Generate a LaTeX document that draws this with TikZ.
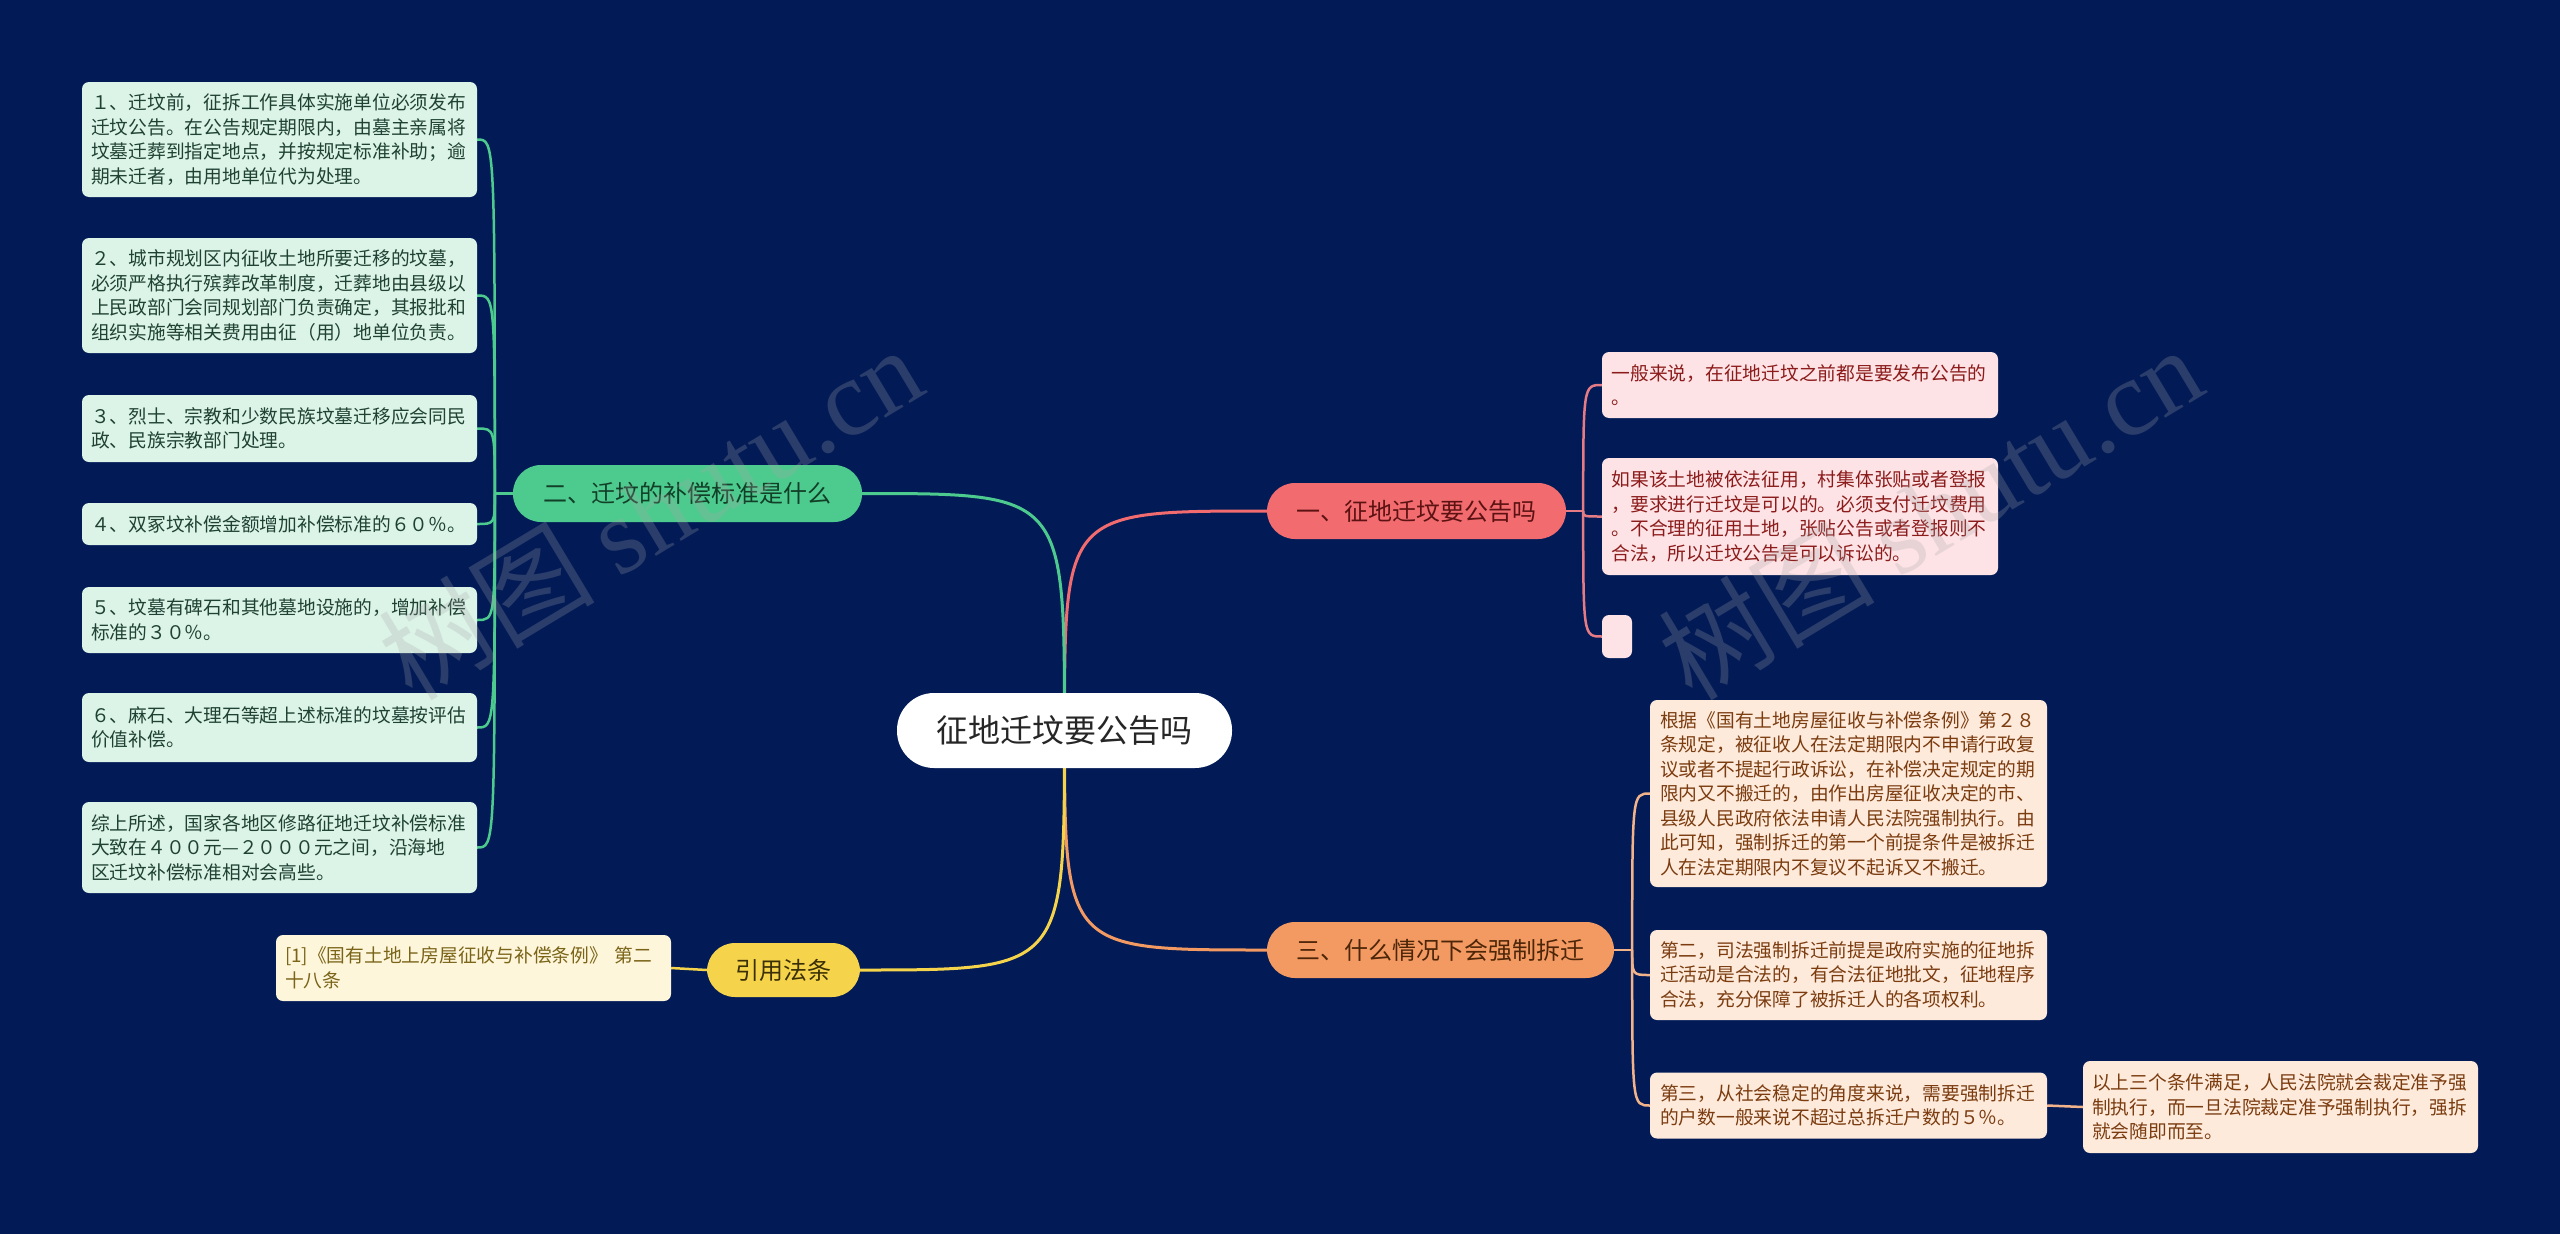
\documentclass[tikz,border=0pt]{standalone}
\usepackage{fontspec}
\setmainfont{Noto Sans CJK SC}
\newfontfamily\wmserif{Liberation Serif}
\definecolor{navy}{HTML}{021B57}
\definecolor{cred}{HTML}{F16B6F}
\definecolor{cgreen}{HTML}{4DCB8E}
\definecolor{corange}{HTML}{F39A62}
\definecolor{cyellow}{HTML}{F5D44C}
\definecolor{lred}{HTML}{E57B84}
\definecolor{lorange}{HTML}{F2B38A}
\definecolor{gleaf}{HTML}{DCF3E8}
\definecolor{gtext}{HTML}{1F4233}
\definecolor{pleaf}{HTML}{FDE3E5}
\definecolor{ptext}{HTML}{8C1B1B}
\definecolor{oleaf}{HTML}{FDEADB}
\definecolor{otext}{HTML}{7B3C10}
\definecolor{yleaf}{HTML}{FEF6DB}
\definecolor{ytext}{HTML}{7A6418}
\pgfdeclarelayer{bg}
\pgfdeclarelayer{edges}
\pgfsetlayers{bg,edges,main}
\begin{document}
\begin{tikzpicture}[x=1pt,y=-1pt,
  leaf/.style={rounded corners=7pt, inner xsep=9pt, inner ysep=0pt, text width=377pt,
    align=left, font=\fontsize{18.75pt}{24.5pt}\selectfont, minimum width=395pt},
  gleafbox/.style={leaf, fill=gleaf, text=gtext},
  pleafbox/.style={leaf, fill=pleaf, text=ptext},
  oleafbox/.style={leaf, fill=oleaf, text=otext},
  yleafbox/.style={leaf, fill=yleaf, text=ytext},
  branchbox/.style={rounded corners=28pt, inner sep=0pt, minimum height=56pt,
    font=\fontsize{24pt}{28pt}\selectfont},
  mainline/.style={line width=3pt},
  subline/.style={line width=2.5pt},
  wm/.style={text=gray!70, opacity=0.25, rotate=31, font=\fontsize{108pt}{120pt}\selectfont}
]
\begin{pgfonlayer}{bg}
  \fill[navy] (0,0) rectangle (2560,1234);
\end{pgfonlayer}
\useasboundingbox (0,0) rectangle (2560,1234);

% center
\node[fill=white, rounded corners=37pt, minimum width=335pt, minimum height=75pt,
  inner sep=0pt, text=black!85, font=\fontsize{32pt}{36pt}\selectfont] (c) at (1064.5,730.5) {征地迁坟要公告吗};

% branches
\node[branchbox, fill=cred, text={rgb,255:red,92;green,18;blue,18}, minimum width=299pt] (b1) at (1416.5,511) {一、征地迁坟要公告吗};
\node[branchbox, fill=cgreen, text={rgb,255:red,18;green,63;blue,40}, minimum width=349pt, minimum height=57pt] (b2) at (687.5,493.5) {二、迁坟的补偿标准是什么};
\node[branchbox, fill=corange, text={rgb,255:red,77;green,38;blue,9}, minimum width=347pt] (b3) at (1440.5,950) {三、什么情况下会强制拆迁};
\node[branchbox, fill=cyellow, text={rgb,255:red,59;green,48;blue,5}, minimum width=153pt, minimum height=54pt] (b4) at (783.5,970) {引用法条};

% left leaves
\node[gleafbox, minimum height=115pt] (l1) at (279.5,139.5) {１、迁坟前，征拆工作具体实施单位必须发布\\迁坟公告。在公告规定期限内，由墓主亲属将\\坟墓迁葬到指定地点，并按规定标准补助；逾\\期未迁者，由用地单位代为处理。};
\node[gleafbox, minimum height=115pt] (l2) at (279.5,295.5) {２、城市规划区内征收土地所要迁移的坟墓，\\必须严格执行殡葬改革制度，迁葬地由县级以\\上民政部门会同规划部门负责确定，其报批和\\组织实施等相关费用由征（用）地单位负责。};
\node[gleafbox, minimum height=67pt] (l3) at (279.5,428.5) {３、烈士、宗教和少数民族坟墓迁移应会同民\\政、民族宗教部门处理。};
\node[gleafbox, minimum height=42pt] (l4) at (279.5,524) {４、双冢坟补偿金额增加补偿标准的６０％。};
\node[gleafbox, minimum height=66pt] (l5) at (279.5,620) {５、坟墓有碑石和其他墓地设施的，增加补偿\\标准的３０％。};
\node[gleafbox, minimum height=69pt] (l6) at (279.5,727.5) {６、麻石、大理石等超上述标准的坟墓按评估\\价值补偿。};
\node[gleafbox, minimum height=91pt] (l7) at (279.5,847.5) {综上所述，国家各地区修路征地迁坟补偿标准\\大致在４００元—２０００元之间，沿海地\\区迁坟补偿标准相对会高些。};

% reference leaf
\node[yleafbox, minimum height=66pt] (r1) at (473.5,968) {[1]《国有土地上房屋征收与补偿条例》 第二\\十八条};

% right leaves (branch 1)
\node[pleafbox, minimum height=66pt, minimum width=396pt] (a1) at (1800,385) {一般来说，在征地迁坟之前都是要发布公告的\\。};
\node[pleafbox, minimum height=117pt, minimum width=396pt] (a2) at (1800,516.5) {如果该土地被依法征用，村集体张贴或者登报\\，要求进行迁坟是可以的。必须支付迁坟费用\\。不合理的征用土地，张贴公告或者登报则不\\合法，所以迁坟公告是可以诉讼的。};
\node[fill=pleaf, rounded corners=7pt, inner sep=0pt, minimum width=30pt, minimum height=43pt] (a3) at (1617,636.5) {};

% right leaves (branch 3)
\node[oleafbox, minimum height=187pt, minimum width=397pt] (d1) at (1848.5,793.5) {根据《国有土地房屋征收与补偿条例》第２８\\条规定，被征收人在法定期限内不申请行政复\\议或者不提起行政诉讼，在补偿决定规定的期\\限内又不搬迁的，由作出房屋征收决定的市、\\县级人民政府依法申请人民法院强制执行。由\\此可知，强制拆迁的第一个前提条件是被拆迁\\人在法定期限内不复议不起诉又不搬迁。};
\node[oleafbox, minimum height=90pt, minimum width=397pt] (d2) at (1848.5,975) {第二，司法强制拆迁前提是政府实施的征地拆\\迁活动是合法的，有合法征地批文，征地程序\\合法，充分保障了被拆迁人的各项权利。};
\node[oleafbox, minimum height=66pt, minimum width=397pt] (d3) at (1848.5,1105.5) {第三，从社会稳定的角度来说，需要强制拆迁\\的户数一般来说不超过总拆迁户数的５％。};
\node[oleafbox, minimum height=92pt] (d4) at (2280.5,1107) {以上三个条件满足，人民法院就会裁定准予强\\制执行，而一旦法院裁定准予强制执行，强拆\\就会随即而至。};

% connectors
\begin{pgfonlayer}{edges}
  \draw[mainline, cred] (c.center) .. controls (c.center |- b1.west) .. (b1.west);
  \draw[mainline, cgreen] (c.center) .. controls (c.center |- b2.east) .. (b2.east);
  \draw[mainline, corange] (c.center) .. controls (c.center |- b3.west) .. (b3.west);
  \draw[mainline, cyellow] (c.center) .. controls (c.center |- b4.east) .. (b4.east);

  \path (b2.west) ++(-18,0) coordinate (j2);
  \draw[subline, cgreen] (b2.west) -- (j2);
  \foreach \n in {l1,l2,l3,l4,l5,l6,l7}
    \draw[subline, cgreen] (j2) .. controls (j2 |- \n.east) .. (\n.east);

  \draw[subline, cyellow] (b4.west) -- (r1.east);

  \path (b1.east) ++(17,0) coordinate (j1);
  \draw[subline, lred] (b1.east) -- (j1);
  \foreach \n in {a1,a2,a3}
    \draw[subline, lred] (j1) .. controls (j1 |- \n.west) .. (\n.west);

  \path (b3.east) ++(18,0) coordinate (j3);
  \draw[subline, lorange] (b3.east) -- (j3);
  \foreach \n in {d1,d2,d3}
    \draw[subline, lorange] (j3) .. controls (j3 |- \n.west) .. (\n.west);
  \draw[subline, lorange] (d3.east) -- (d4.west);
\end{pgfonlayer}

% watermarks
\node[wm] (w1) at (650,512) {树图 {\wmserif shutu.cn}};
\node[wm] (w2) at (1930,512) {树图 {\wmserif shutu.cn}};
\end{tikzpicture}
\end{document}
